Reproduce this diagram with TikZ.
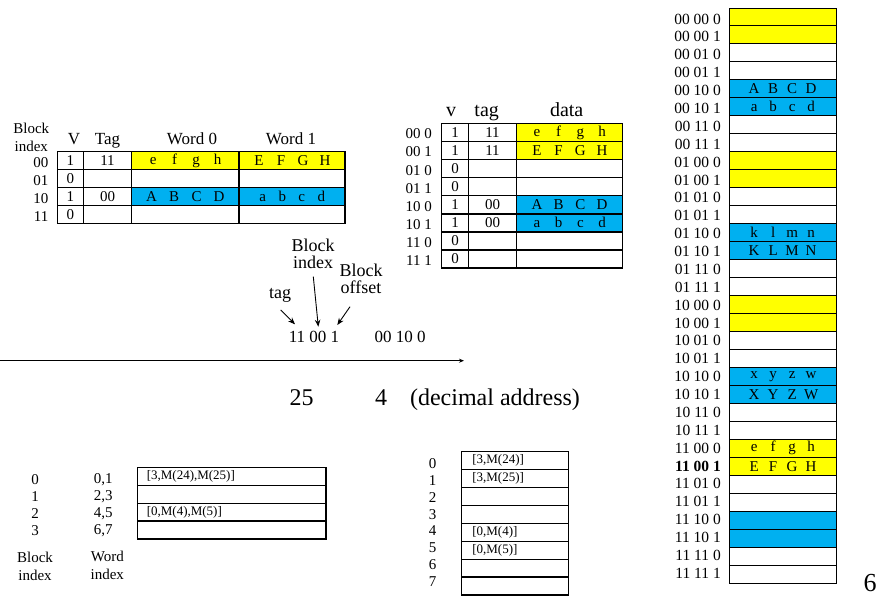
\documentclass[tikz,border=0pt]{standalone}
\usepackage{fontspec}
\setmainfont{Liberation Serif}
\usetikzlibrary{arrows.meta}
\definecolor{cyel}{HTML}{FFFF00}
\definecolor{cblu}{HTML}{00B0F0}
\newcommand{\sprd}[5]{\makebox[#1pt]{#2}\makebox[#1pt]{#3}\makebox[#1pt]{#4}\makebox[#1pt]{#5}}
\tikzset{
  tc/.style={draw, line width=1.4pt, anchor=north west, inner sep=0pt, outer sep=0pt,
    minimum height=18pt, font={\fontsize{15}{18}\selectfont}},
  lb/.style={inner sep=0pt, font={\fontsize{15}{18}\selectfont}},
  ml/.style={inner sep=0pt, font={\fontsize{15.5}{18}\selectfont}},
  mc/.style={draw, line width=1pt, anchor=north west, inner sep=0pt, outer sep=0pt,
    minimum width=106.7pt, minimum height=17.97pt, font={\fontsize{15}{18}\selectfont}},
  bc/.style={draw, line width=1.2pt, anchor=north west, inner ysep=0pt, outer sep=0pt,
    minimum height=17.9pt, align=left, font={\fontsize{13}{15}\selectfont}},
  hd/.style={inner sep=0pt, anchor=base},
  arr/.style={-{Stealth[length=7pt,width=5.5pt]}, line width=0.9pt},
}
\newcommand{\cArow}[7]{%
  \node[tc, minimum width=26pt] (a#1v) at (57.3,{151.7+18*#1}) {#2};
  \node[tc, minimum width=48.4pt] (a#1t) at (83.3,{151.7+18*#1}) {#3};
  \node[tc, minimum width=107.3pt, fill=#4] (a#1w) at (131.7,{151.7+18*#1}) {#5};
  \node[tc, minimum width=106pt, fill=#4] (a#1x) at (239,{151.7+18*#1}) {#6};
  \node[lb, anchor=east] (a#1l) at (48.5,{162.2+18*#1}) {#7};
}
\newcommand{\cBrow}[6]{%
  \node[tc, minimum width=26.6pt, minimum height=18.1pt] (b#1v) at (441.7,{123.3+18.1*#1}) {#3};
  \node[tc, minimum width=48.4pt, minimum height=18.1pt] (b#1t) at (468.3,{123.3+18.1*#1}) {#4};
  \node[tc, minimum width=105.6pt, minimum height=18.1pt, fill=#5] (b#1d) at (516.7,{123.3+18.1*#1}) {#6};
  \node[lb, anchor=east] (b#1l) at (432,{133.9+18.1*#1}) {#2};
}
\newcommand{\cCrow}[4]{%
  \node[bc, inner xsep=9.5pt, text width=169.7pt] (c#1) at (137.3,{467.3+17.9*#1}) {#4};
  \node[lb] (c#1b) at (35,{479.3+17.1*#1}) {#2};
  \node[lb] (c#1w) at (103.3,{479.3+17.1*#1}) {#3};
}
\newcommand{\cDrow}[3]{%
  \node[bc, inner xsep=10.6pt, text width=85.4pt] (d#1) at (461.7,{451.7+17.9*#1}) {#3};
  \node[lb] (d#1l) at (432.7,{463.8+16.8*#1}) {#2};
}
\newcommand{\mrow}[4]{%
  \node[mc, fill=#3] (m#1) at (729.3,{8+17.97*#1}) {#4};
  \node[ml, anchor=east] (ml#1) at (721,{19+17.88*#1}) {#2};
}
\begin{document}
\begin{tikzpicture}[x=1pt,y=-1pt]
\useasboundingbox (0,0) rectangle (880,605);

% ---------- cache 1 (two-word blocks) ----------
\node[lb, align=center, font={\fontsize{15}{18}\selectfont}] (blkidx1) at (31.3,137) {Block\\index};
\node[hd, font={\fontsize{17}{20}\selectfont}] (hV) at (74,144) {V};
\node[hd, font={\fontsize{17}{20}\selectfont}] (hTag) at (107.5,144) {Tag};
\node[hd, font={\fontsize{17}{20}\selectfont}] (hW0) at (192,144) {Word 0};
\node[hd, font={\fontsize{17}{20}\selectfont}] (hW1) at (291,144) {Word 1};
\cArow{0}{1}{11}{cyel}{\sprd{21.5}{e}{f}{g}{h}}{\sprd{22}{E}{F}{G}{H}}{00}
\cArow{1}{0}{}{white}{}{}{01}
\cArow{2}{1}{00}{cblu}{\sprd{22.5}{A}{B}{C}{D}}{\sprd{19.5}{a}{b}{c}{d}}{10}
\cArow{3}{0}{}{white}{}{}{11}

% ---------- cache 2 (one-word blocks) ----------
\node[hd, font={\fontsize{20}{22}\selectfont}] (hv2) at (451,116) {v};
\node[hd, font={\fontsize{20}{22}\selectfont}] (htag2) at (486.7,116) {tag};
\node[hd, font={\fontsize{20}{22}\selectfont}] (hdata2) at (566.7,116) {data};
\cBrow{0}{00 0}{1}{11}{cyel}{\sprd{21.7}{e}{f}{g}{h}}
\cBrow{1}{00 1}{1}{11}{cyel}{\sprd{21.7}{E}{F}{G}{H}}
\cBrow{2}{01 0}{0}{}{white}{}
\cBrow{3}{01 1}{0}{}{white}{}
\cBrow{4}{10 0}{1}{00}{cblu}{\sprd{21.7}{A}{B}{C}{D}}
\cBrow{5}{10 1}{1}{00}{cblu}{\sprd{21.7}{a}{b}{c}{d}}
\cBrow{6}{11 0}{0}{}{white}{}
\cBrow{7}{11 1}{0}{}{white}{}

% ---------- address breakdown ----------
\node[lb, align=center, font={\fontsize{18}{16.5}\selectfont}] (lblidx) at (313,254) {Block\\index};
\node[lb, align=center, font={\fontsize{18}{16.5}\selectfont}] (lbloff) at (361,279) {Block\\offset};
\node[lb, font={\fontsize{18}{20}\selectfont}] (ltag) at (280,295) {tag};
\node[hd, font={\fontsize{17}{20}\selectfont}] (addr1) at (314,342.7) {11 00 1};
\node[hd, font={\fontsize{17}{20}\selectfont}] (addr2) at (400,342.7) {00 10 0};
\coordinate (tagS) at (280.7,310);
\coordinate (tagE) at (295,324.3);
\coordinate (idxS) at (313.3,276.7);
\coordinate (idxE) at (318.3,326.7);
\coordinate (offS) at (350,306.7);
\coordinate (offE) at (337.3,325);
\draw[arr] (tagS) -- (tagE);
\draw[arr] (idxS) -- (idxE);
\draw[arr] (offS) -- (offE);
\coordinate (axL) at (0,360.7);
\coordinate (axR) at (464,360.7);
\draw[line width=0.9pt, -{Stealth[length=5pt,width=4pt]}] (axL) -- (axR);
\node[hd, font={\fontsize{24}{26}\selectfont}] (d25) at (301.7,405) {25};
\node[hd, font={\fontsize{24}{26}\selectfont}] (d4) at (381,405) {4};
\node[hd, font={\fontsize{24}{26}\selectfont}] (ddec) at (495,405) {(decimal address)};

% ---------- bottom-left table ----------
\cCrow{0}{0}{0,1}{[3,M(24),M(25)]}
\cCrow{1}{1}{2,3}{}
\cCrow{2}{2}{4,5}{[0,M(4),M(5)]}
\cCrow{3}{3}{6,7}{}
\node[lb, align=center] (blkidx3) at (35,566) {Block\\index};
\node[lb, align=center] (wrdidx3) at (107.3,565.5) {Word\\index};

% ---------- bottom-middle table ----------
\cDrow{0}{0}{[3,M(24)]}
\cDrow{1}{1}{[3,M(25)]}
\cDrow{2}{2}{}
\cDrow{3}{3}{}
\cDrow{4}{4}{[0,M(4)]}
\cDrow{5}{5}{[0,M(5)]}
\cDrow{6}{6}{}
\cDrow{7}{7}{}

% ---------- memory ----------
\mrow{0}{00 00 0}{cyel}{}
\mrow{1}{00 00 1}{cyel}{}
\mrow{2}{00 01 0}{white}{}
\mrow{3}{00 01 1}{white}{}
\mrow{4}{00 10 0}{cblu}{\sprd{19}{A}{B}{C}{D}}
\mrow{5}{00 10 1}{cblu}{\sprd{19}{a}{b}{c}{d}}
\mrow{6}{00 11 0}{white}{}
\mrow{7}{00 11 1}{white}{}
\mrow{8}{01 00 0}{cyel}{}
\mrow{9}{01 00 1}{cyel}{}
\mrow{10}{01 01 0}{white}{}
\mrow{11}{01 01 1}{white}{}
\mrow{12}{01 10 0}{cblu}{\sprd{19}{k}{l}{m}{n}}
\mrow{13}{01 10 1}{cblu}{\sprd{19}{K}{L}{M}{N}}
\mrow{14}{01 11 0}{white}{}
\mrow{15}{01 11 1}{white}{}
\mrow{16}{10 00 0}{cyel}{}
\mrow{17}{10 00 1}{cyel}{}
\mrow{18}{10 01 0}{white}{}
\mrow{19}{10 01 1}{white}{}
\mrow{20}{10 10 0}{cblu}{\sprd{19}{x}{y}{z}{w}}
\mrow{21}{10 10 1}{cblu}{\sprd{19}{X}{Y}{Z}{W}}
\mrow{22}{10 11 0}{white}{}
\mrow{23}{10 11 1}{white}{}
\mrow{24}{11 00 0}{cyel}{\sprd{19}{e}{f}{g}{h}}
\mrow{25}{\textbf{11 00 1}}{cyel}{\sprd{19}{E}{F}{G}{H}}
\mrow{26}{11 01 0}{white}{}
\mrow{27}{11 01 1}{white}{}
\mrow{28}{11 10 0}{cblu}{}
\mrow{29}{11 10 1}{cblu}{}
\mrow{30}{11 11 0}{white}{}
\mrow{31}{11 11 1}{white}{}

\node[lb, font={\fontsize{26}{28}\selectfont}] (pgnum) at (870,583) {6};
\end{tikzpicture}
\end{document}
